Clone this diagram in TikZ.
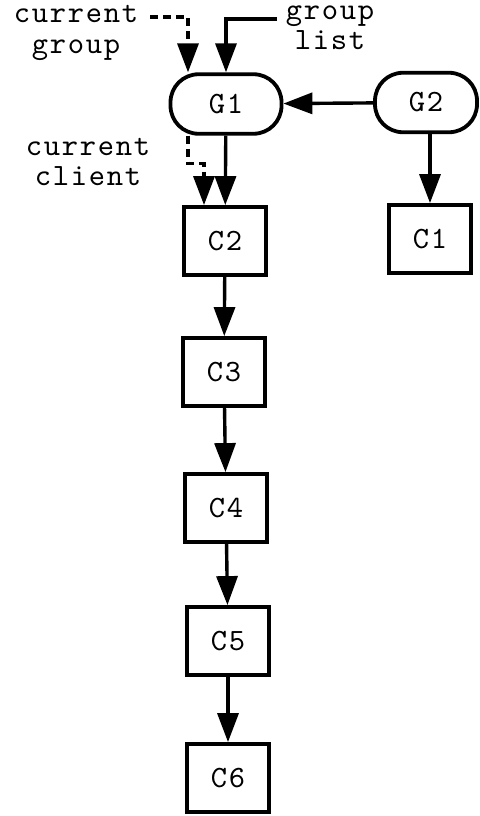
\documentclass[tikz,border=0pt]{standalone}
\usepackage{fontspec}
\newfontfamily\mymono{lmmono10-regular.otf}[LetterSpace=5.5]
\usetikzlibrary{arrows.meta}
\newcommand{\mylblfont}{\mymono\fontsize{31}{30}\selectfont}
\begin{document}
\begin{tikzpicture}[x=1pt,y=-1pt,
  lbl/.style={font=\mylblfont, align=center, inner sep=0pt, anchor=base},
  grp/.style={rectangle, rounded corners=28pt, draw, line width=3.8pt, minimum width=111pt, minimum height=59.5pt, inner sep=0pt, font=\mylblfont},
  cli/.style={rectangle, draw, line width=3.8pt, minimum width=82pt, minimum height=68pt, inner sep=0pt, font=\mylblfont},
  arr/.style={line width=3.4pt, -{Triangle[length=29pt,width=21pt]}},
  darr/.style={arr, dash pattern=on 8pt off 5pt}
]
\useasboundingbox (0,0) rectangle (479,816);

\node[grp] (G1) at (226,104) {G1};
\node[grp, minimum width=102pt] (G2) at (426,102.5) {G2};
\node[cli] (C2) at (225,241) {C2};
\node[cli] (C1) at (430,239) {C1};
\node[cli] (C3) at (224,372) {C3};
\node[cli] (C4) at (226,508) {C4};
\node[cli] (C5) at (228,641) {C5};
\node[cli] (C6) at (228,778) {C6};

\node[lbl] (cg) at (76,53) {current\\group};
\node[lbl] (gl) at (330,50) {group\\list};
\node[lbl] (cc) at (88,185) {current\\client};

\coordinate (cgs) at (150,17);
\coordinate (gls) at (277,19);

\draw[darr] (cgs) -| ([xshift=-38pt]G1.north);
\draw[arr] (gls) -| (G1.north);
\draw[darr] ([xshift=-38pt]G1.south) -- ++(0,28) -| ([xshift=-21pt]C2.north);
\draw[arr] (G1) -- (C2);
\draw[arr] (G2) -- (G1);
\draw[arr] (G2.south -| C1) -- (C1);
\draw[arr] (C2) -- (C3);
\draw[arr] (C3) -- (C4);
\draw[arr] (C4) -- (C5);
\draw[arr] (C5) -- (C6);
\end{tikzpicture}
\end{document}
